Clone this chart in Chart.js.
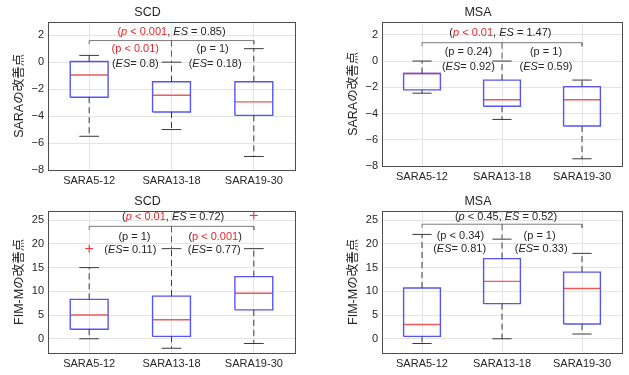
<!DOCTYPE html>
<html>
<head>
<meta charset="utf-8">
<script src="https://cdn.jsdelivr.net/npm/chart.js@4/dist/chart.umd.min.js"></script>
<style>
  html, body { margin: 0; padding: 0; background: #fff; }
  body { width: 629px; height: 375px; position: relative; overflow: hidden; }
  canvas { position: absolute; }
</style>
</head>
<body>
<canvas id="scdSara" width="310" height="190" style="left:0;top:0"></canvas>
<canvas id="msaSara" width="295" height="186" style="left:334px;top:0"></canvas>
<canvas id="scdFim" width="310" height="183" style="left:0;top:190px"></canvas>
<canvas id="msaFim" width="295" height="183" style="left:334px;top:190px"></canvas>
<script>
// groups on the x axis
const categories = ['SARA5-12', 'SARA13-18', 'SARA19-30'];

// box stats per group: [lower whisker, Q1, median, Q3, upper whisker]
const scdSaraStats = [[-5.5, -2.6, -0.95, 0.05, 0.5], [-5, -3.7, -2.45, -1.45, 0], [-7, -3.95, -2.95, -1.45, 1]];
const msaSaraStats = [[-2.45, -2.2, -0.95, -0.95, 0], [-4.45, -3.45, -2.95, -1.45, 0], [-7.45, -4.95, -2.95, -1.95, -1.45]];
const scdFimStats = [[0, 2, 5, 8.3, 15], [-2, 0.5, 4, 9, 19], [-1, 6.1, 9.6, 13.1, 19]];
const msaFimStats = [[-1, 0.5, 3, 10.7, 22], [0, 7.4, 12.1, 16.9, 21], [1, 3.1, 10.6, 14.05, 18]];

// outliers per group
const scdSaraOutliers = [[], [], []];
const msaSaraOutliers = [[], [], []];
const scdFimOutliers = [[19], [], [26]];
const msaFimOutliers = [[], [], []];

// height of the comparison bracket
const scdSaraBracket = 1.6;
const msaSaraBracket = 1.4;
const scdFimBracket = 23.7;
const msaFimBracket = 24.15;

// y ticks
const saraTicks = [-8, -6, -4, -2, 0, 2];
const fimTicks = [0, 5, 10, 15, 20, 25];

const RED = '#e8262a';
const DARK = '#262626';

// statistics labels: [text, colour, italic]
const scdSaraNotes = [
  { x: 2.0, y: 2.24, parts: [['(', RED], ['p', RED, true], [' < 0.001', RED], [', ', DARK], ['ES', DARK, true], [' = 0.85)', DARK]] },
  { x: 1.56, y: 0.95, parts: [['(p < 0.01)', RED]] },
  { x: 2.5, y: 0.95, parts: [['(p = 1)', DARK]] },
  { x: 1.56, y: -0.12, parts: [['(', DARK], ['ES', DARK, true], ['= 0.8)', DARK]] },
  { x: 2.53, y: -0.12, parts: [['(', DARK], ['ES', DARK, true], ['= 0.18)', DARK]] }
];
const msaSaraNotes = [
  { x: 1.98, y: 2.11, parts: [['(', DARK], ['p', RED, true], [' < 0.01', RED], [', ', DARK], ['ES', DARK, true], [' = 1.47)', DARK]] },
  { x: 1.58, y: 0.66, parts: [['(p = 0.24)', DARK]] },
  { x: 2.55, y: 0.66, parts: [['(p = 1)', DARK]] },
  { x: 1.58, y: -0.43, parts: [['(', DARK], ['ES', DARK, true], ['= 0.92)', DARK]] },
  { x: 2.55, y: -0.43, parts: [['(', DARK], ['ES', DARK, true], ['= 0.59)', DARK]] }
];
const scdFimNotes = [
  { x: 2.02, y: 25.6, parts: [['(', DARK], ['p', RED, true], [' < 0.01', RED], [', ', DARK], ['ES', DARK, true], [' = 0.72)', DARK]] },
  { x: 1.55, y: 21.5, parts: [['(p = 1)', DARK]] },
  { x: 2.53, y: 21.5, parts: [['(', DARK], ['p < 0.001', RED], [')', DARK]] },
  { x: 1.5, y: 18.7, parts: [['(', DARK], ['ES', DARK, true], ['= 0.11)', DARK]] },
  { x: 2.52, y: 18.7, parts: [['(', DARK], ['ES', DARK, true], ['= 0.77)', DARK]] }
];
const msaFimNotes = [
  { x: 2.05, y: 25.6, parts: [['(', DARK], ['p', DARK, true], [' < 0.45, ', DARK], ['ES', DARK, true], [' = 0.52)', DARK]] },
  { x: 1.48, y: 21.7, parts: [['(p < 0.34)', DARK]] },
  { x: 2.47, y: 21.7, parts: [['(p = 1)', DARK]] },
  { x: 1.47, y: 18.9, parts: [['(', DARK], ['ES', DARK, true], ['= 0.81)', DARK]] },
  { x: 2.49, y: 18.9, parts: [['(', DARK], ['ES', DARK, true], ['= 0.33)', DARK]] }
];

const FONT = '"Liberation Sans", Arial, "Noto Sans CJK JP", sans-serif';
const BOX_W = 0.23;
const CAP_W = 0.12;
const GAP = i => ({ x: i, y: null });

function boxPoints(stats) {
  const pts = [];
  stats.forEach((s, i) => {
    const x = i + 1;
    pts.push({ x: x - BOX_W, y: s[1] }, { x: x + BOX_W, y: s[1] }, { x: x + BOX_W, y: s[3] },
             { x: x - BOX_W, y: s[3] }, { x: x - BOX_W, y: s[1] }, GAP(x));
  });
  return pts;
}
function medianPoints(stats) {
  const pts = [];
  stats.forEach((s, i) => pts.push({ x: i + 1 - BOX_W, y: s[2] }, { x: i + 1 + BOX_W, y: s[2] }, GAP(i + 1)));
  return pts;
}
function whiskerPoints(stats) {
  const pts = [];
  stats.forEach((s, i) => pts.push({ x: i + 1, y: s[3] }, { x: i + 1, y: s[4] }, GAP(i + 1),
                                   { x: i + 1, y: s[1] }, { x: i + 1, y: s[0] }, GAP(i + 1)));
  return pts;
}
function capPoints(stats) {
  const pts = [];
  stats.forEach((s, i) => pts.push({ x: i + 1 - CAP_W, y: s[4] }, { x: i + 1 + CAP_W, y: s[4] }, GAP(i + 1),
                                   { x: i + 1 - CAP_W, y: s[0] }, { x: i + 1 + CAP_W, y: s[0] }, GAP(i + 1)));
  return pts;
}
function outlierPoints(outliers) {
  const pts = [];
  outliers.forEach((list, i) => list.forEach(v => pts.push({ x: i + 1, y: v })));
  return pts;
}

// draws the frame and the statistics text
const framePlugin = {
  id: 'frame',
  afterDraw(chart, args, opts) {
    const { ctx, chartArea: a, scales } = chart;
    ctx.save();
    ctx.strokeStyle = '#4d4d4d';
    ctx.lineWidth = 1;
    ctx.strokeRect(Math.round(a.left) + 0.5, Math.round(a.top) + 0.5, Math.round(a.width), Math.round(a.height));
    ctx.textBaseline = 'middle';
    (opts.notes || []).forEach(n => {
      const fonts = n.parts.map(p => (p[2] ? 'italic ' : '') + '11px ' + FONT);
      let total = 0;
      n.parts.forEach((p, k) => { ctx.font = fonts[k]; total += ctx.measureText(p[0]).width; });
      let x = scales.x.getPixelForValue(n.x) - total / 2;
      const y = scales.y.getPixelForValue(n.y);
      n.parts.forEach((p, k) => {
        ctx.font = fonts[k];
        ctx.fillStyle = p[1];
        ctx.fillText(p[0], x, y);
        x += ctx.measureText(p[0]).width;
      });
    });
    ctx.restore();
  }
};

function makeChart(id, cfg) {
  const span = cfg.yMax - cfg.yMin;
  const drop = span * 0.025;
  const b = cfg.bracket;
  const bracketPts = [{ x: 1, y: b - drop }, { x: 1, y: b }, { x: 3, y: b }, { x: 3, y: b - drop }];
  const midPts = [{ x: 2, y: b }, { x: 2, y: cfg.stats[1][4] }];
  new Chart(document.getElementById(id), {
    type: 'line',
    data: {
      datasets: [
        { data: whiskerPoints(cfg.stats), borderColor: '#3a3a3a', borderWidth: 1, borderDash: [6, 4] },
        { data: midPts, borderColor: '#5a5a5a', borderWidth: 1, borderDash: [6, 4] },
        { data: bracketPts, borderColor: '#7a7a7a', borderWidth: 1 },
        { data: capPoints(cfg.stats), borderColor: '#3a3a3a', borderWidth: 1 },
        { data: boxPoints(cfg.stats), borderColor: 'rgb(85,85,245)', borderWidth: 1.4 },
        { data: medianPoints(cfg.stats), borderColor: 'rgb(240,90,90)', borderWidth: 1.4 },
        { type: 'scatter', data: outlierPoints(cfg.outliers), pointStyle: 'cross', pointRadius: 4,
          borderColor: RED, borderWidth: 1, showLine: false }
      ]
    },
    options: {
      responsive: false,
      animation: false,
      devicePixelRatio: 1,
      spanGaps: false,
      elements: { point: { radius: 0, hoverRadius: 0 }, line: { tension: 0 } },
      layout: { padding: { left: 0, right: cfg.padRight, top: 0, bottom: 0 } },
      scales: {
        x: {
          type: 'linear', min: 0.5, max: 3.5,
          afterBuildTicks: s => { s.ticks = categories.map((c, i) => ({ value: i + 1 })); },
          afterFit: s => { s.height = 20; },
          ticks: { callback: v => categories[v - 1], color: DARK, padding: 4, maxRotation: 0,
                   font: { family: FONT, size: 11 } },
          grid: { color: '#e4e4e4', drawTicks: false },
          border: { display: false }
        },
        y: {
          min: cfg.yMin, max: cfg.yMax,
          afterBuildTicks: s => { s.ticks = cfg.ticks.map(v => ({ value: v })); },
          afterFit: s => { s.width = 48; },
          ticks: { callback: v => String(v).replace('-', '\u2212'), color: DARK, padding: 4,
                   font: { family: FONT, size: 11 } },
          grid: { color: '#e4e4e4', drawTicks: false },
          border: { display: false },
          title: { display: true, text: cfg.yTitle, color: DARK, padding: { top: 12, bottom: 0 },
                   font: { family: FONT, size: 12.5 } }
        }
      },
      plugins: {
        legend: { display: false },
        tooltip: { enabled: false },
        title: { display: true, text: cfg.title, color: DARK, padding: cfg.titlePad,
                 font: { family: FONT, size: 12.5, weight: 'normal' } },
        frame: { notes: cfg.notes }
      }
    },
    plugins: [framePlugin]
  });
}

makeChart('scdSara', { title: 'SCD', yTitle: 'SARAの改善点', stats: scdSaraStats, outliers: scdSaraOutliers,
  bracket: scdSaraBracket, notes: scdSaraNotes, ticks: saraTicks, yMin: -8, yMax: 3,
  padRight: 15, titlePad: { top: 4.8, bottom: 1.9 } });
makeChart('msaSara', { title: 'MSA', yTitle: 'SARAの改善点', stats: msaSaraStats, outliers: msaSaraOutliers,
  bracket: msaSaraBracket, notes: msaSaraNotes, ticks: saraTicks, yMin: -8, yMax: 3,
  padRight: 7, titlePad: { top: 4.8, bottom: 1.9 } });
makeChart('scdFim', { title: 'SCD', yTitle: 'FIM-Mの改善点', stats: scdFimStats, outliers: scdFimOutliers,
  bracket: scdFimBracket, notes: scdFimNotes, ticks: fimTicks, yMin: -3, yMax: 27,
  padRight: 15, titlePad: { top: 4.2, bottom: 1.5 } });
makeChart('msaFim', { title: 'MSA', yTitle: 'FIM-Mの改善点', stats: msaFimStats, outliers: msaFimOutliers,
  bracket: msaFimBracket, notes: msaFimNotes, ticks: fimTicks, yMin: -3, yMax: 27,
  padRight: 7, titlePad: { top: 4.2, bottom: 1.5 } });
</script>
</body>
</html>
